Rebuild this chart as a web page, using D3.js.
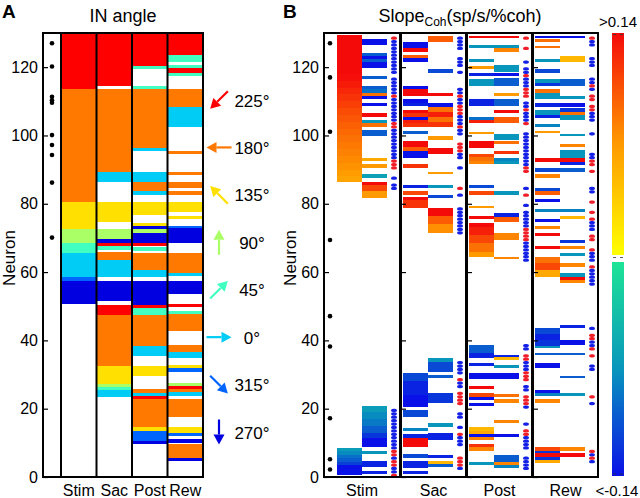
<!DOCTYPE html>
<html><head><meta charset="utf-8">
<script src="https://cdn.jsdelivr.net/npm/d3@7"></script>
<style>body{margin:0;background:#fff}text{font-family:"Liberation Sans",Arial,Helvetica,sans-serif;fill:#000}</style>
</head><body><svg id="c" width="640" height="498" xmlns="http://www.w3.org/2000/svg"></svg>
<script>
// ---------- data ----------
const epochs = ["Stim","Sac","Post","Rew"];
const yTicks = [0,20,40,60,80,100,120];
const neuronMax = 130;
const angles = [225,180,135,90,45,0,315,270];
const angleLabels = ["225°","180°","135°","90°","45°","0°","315°","270°"];
const slopeLimit = 0.14;
const colorbarLabels = [">0.14","<-0.14"];

// Panel A: [from neuron, to neuron, IN angle]
const aStim = [[50.7,57.5,270],[57.5,58.5,315],[58.5,65.7,0],[65.7,68.6,45],[68.6,72.5,90],[72.5,80.5,135],[80.5,113.5,180],[113.5,130,225]];
const aSac = [[23.5,25.5,0],[25.5,26.3,45],[26.3,27.3,90],[27.3,32.5,135],[32.5,47.4,180],[47.4,50.4,225],[51.4,57.5,270],[58.5,63.5,0],[63.5,65.8,180],[66.5,67.6,45],[67.6,68.6,225],[68.6,69.6,270],[69.6,72.5,90],[74.8,80.6,135],[86.5,89.4,0],[89.4,113.5,180],[114.5,130,225]];
const aPost = [[9.7,10.5,270],[10.5,13.5,315],[13.5,14.5,135],[14.5,22.9,180],[22.9,23.7,225],[23.7,24.7,0],[24.7,25.7,180],[29.7,32.6,135],[35.5,38.3,0],[38.3,47.4,180],[47.4,49.4,45],[49.4,50.4,225],[50.4,57.5,270],[58.5,60.5,0],[60.5,65.5,180],[66.3,67.3,45],[67.6,68.6,225],[68.6,71.5,270],[71.5,72.5,90],[72.5,73.5,270],[73.5,74.5,135],[76.7,80.6,135],[82.6,83.6,0],[83.6,86.5,180],[86.5,89.4,0],[95.5,96.4,0],[96.4,113.5,180],[113.5,114.5,45],[119.5,120.4,45],[120.4,130,225]];
const aRew = [[4.7,5.5,270],[5.5,9.7,180],[9.9,11.0,270],[12.0,12.8,315],[12.8,14.5,135],[17.7,22.8,180],[23.8,24.8,0],[24.8,25.8,180],[25.8,26.7,225],[26.7,27.6,90],[30.8,31.8,315],[31.8,32.8,135],[34.7,36.7,0],[36.7,38.7,180],[42.8,47.7,180],[47.7,48.7,45],[49.7,50.7,225],[53.6,57.5,270],[58.9,59.8,0],[59.8,65.7,180],[68.6,72.8,270],[72.8,73.5,315],[75.5,76.4,135],[77.7,80.6,135],[82.6,83.6,180],[84.5,86.5,180],[88.4,89.4,180],[94.6,95.5,180],[102.6,108.4,0],[108.4,113.5,180],[117.4,118.4,45],[118.4,119.7,225],[119.7,120.6,45],[121.6,123.6,45],[123.6,130,225]];
const aMarked = [127,120.2,111.3,110.3,109.6,100.1,97.2,94.3,86.2,70.1];

// Panel B: [from neuron, to neuron, slope]
const bStim1 = [[118,129.5,0.15],[116,118,0.138],[114,116,0.132],[112,114,0.126],[110,112,0.12],[108,110,0.114],[106,108,0.108],[104,106,0.103],[102,104,0.098],[100,102,0.094],[98,100,0.09],[96,98,0.086],[94,96,0.082],[92,94,0.078],[90,92,0.074],[88,90,0.068],[86.5,88,0.064],[7.5,8.6,-0.065],[6.5,7.5,-0.075],[5.5,6.5,-0.09],[4.5,5.5,-0.10],[3.5,4.5,-0.115],[0.5,3.5,-0.14]];
const bStim2 = [[126.5,128.2,-0.14],[123.3,124.2,-0.10],[122.3,123.3,-0.14],[121.4,122.3,-0.10],[119.7,121.4,-0.14],[116.4,117.4,-0.10],[113.5,114.5,-0.10],[112.5,113.5,-0.09],[111.5,112.5,0.09],[110.6,111.5,-0.14],[108.6,109.6,-0.14],[105.5,106.5,0.14],[103.6,104.5,-0.07],[102.6,103.6,0.09],[99.7,101.6,-0.10],[92.5,93.5,0.06],[90.6,91.6,0.07],[87.6,88.6,-0.06],[85.5,86.5,0.14],[83.6,85.5,0.11],[81.6,83.6,0.07],[19,20.8,-0.065],[17,19,-0.075],[15,17,-0.085],[13,15,-0.10],[11.5,13,-0.12],[8.9,11.5,-0.14],[6.7,7.7,-0.07],[2.8,4.8,-0.13],[0.9,1.9,-0.13]];
const bStimDots = [[129,129,1],[119,128,-1],[113,117,-1],[112,112,1],[105,111,-1],[103,104,1],[94,102,-1],[91,93,1],[88,88,-1],[85,86,-1],[9,20,-1],[7,8,1],[6,6,-1],[4,5,1],[2,3,-1],[1,1,1]];

const bSac1 = [[125.5,127.5,-0.14],[124.5,125.5,0.14],[122.6,123.6,0.10],[121.6,122.6,-0.14],[113.5,114.5,-0.14],[111.5,113.5,0.14],[109.6,110.6,-0.14],[108.6,109.6,-0.13],[106.5,107.5,0.14],[105.5,106.5,0.12],[104.5,105.5,-0.14],[103.6,104.5,0.13],[102.6,103.6,0.12],[100.4,101.3,-0.10],[97.4,98.4,0.14],[96.5,97.4,0.14],[95.5,96.5,0.10],[93.5,95.5,-0.14],[90.6,91.6,0.12],[84.5,85.5,-0.13],[82.6,83.6,0.11],[81,82,0.14],[78.7,81,0.12],[28,30.5,-0.11],[24,28,-0.13],[20.6,24,-0.14],[17.7,19.6,-0.11],[13.5,14.4,-0.08],[11.5,12.5,-0.13],[8.9,11.5,0.15],[5.7,6.6,-0.11],[2.7,4.7,-0.13],[0.8,1.8,-0.13]];
const bSac2 = [[127.5,129,0.10],[118.4,119.4,-0.11],[111.5,112.5,0.14],[108.4,109.4,-0.14],[107,108.4,0.09],[105.5,107,0.13],[104,105.5,0.09],[102.6,104,0.12],[98.7,99.7,0.07],[94.5,96.4,0.14],[88.6,89.4,0.07],[84.5,85.5,-0.07],[81.6,82.6,-0.11],[76.5,78.7,0.14],[74,76.5,0.10],[71.4,74,0.075],[33.8,34.7,-0.07],[30.8,33.8,-0.11],[28.9,29.9,-0.10],[21.8,24.7,-0.12],[14.7,15.9,-0.07],[10.8,12.8,-0.13],[5.5,6.4,-0.13],[3.8,4.8,0.05],[2.8,3.8,-0.10]];
const bSacDots = [[126,129,-1],[121,123,-1],[119,119,-1],[113,114,-1],[112,112,1],[110,111,-1],[107,109,1],[104,106,-1],[103,103,1],[101,102,-1],[96,98,1],[94,95,-1],[91,91,-1],[85,85,1],[83,83,-1],[72,79,-1],[31,34,-1],[29,29,1],[27,28,-1],[22,25,1],[18,19,-1],[15,15,-1],[13,13,1],[10,12,-1],[6,6,1],[4,5,1],[3,3,-1]];

const bPost1 = [[128.4,129.1,0.14],[125.5,126.5,-0.07],[121.5,122.3,-0.07],[119.6,120.4,0.07],[117.4,118.4,-0.13],[114.5,116.4,-0.07],[108.6,110.6,-0.13],[104.5,105.5,-0.09],[103.6,104.5,0.13],[100.3,101.1,0.07],[96.2,98.5,0.14],[93.6,94.5,0.11],[92.5,93.6,0.09],[91.5,92.5,0.08],[84.5,85.5,-0.11],[82.6,83.6,0.11],[78.7,79.4,0.07],[75.5,76.4,0.14],[73.3,74.3,0.14],[71,73.3,0.13],[68.5,71,0.11],[66,68.5,0.09],[64.5,66,0.07],[36.2,38.7,-0.10],[34.7,36.2,-0.13],[32.5,33.5,-0.13],[28.6,30.5,-0.14],[25.7,26.6,0.14],[23.5,24.5,0.11],[22.5,23.5,-0.14],[20.8,21.8,-0.14],[13.5,14.5,0.05],[12.6,13.5,0.06],[11.8,12.6,-0.14],[10.8,11.8,0.08],[8.7,9.7,0.12],[7.7,8.7,0.08],[3.5,4.5,-0.07]];
const bPost2 = [[128.4,129.1,0.14],[125.5,126.5,-0.07],[124.5,125.5,0.08],[118.5,120.5,-0.07],[117.4,118.4,-0.14],[114.5,116.7,-0.10],[111.5,112.5,0.07],[108.6,110.6,-0.10],[106.5,107.5,0.14],[103.6,105.5,0.10],[98.7,100.3,-0.07],[97.5,98.5,0.09],[94.5,95.5,0.12],[92.5,93.5,-0.08],[91.5,92.5,-0.07],[82.6,83.6,-0.07],[76.2,77.2,-0.13],[74.8,76.2,0.10],[69.4,71.4,0.08],[63.7,64.5,0.08],[35.0,35.8,-0.13],[34.2,35.0,0.05],[31.8,32.8,-0.07],[28.6,30.5,-0.14],[23.3,24.3,0.09],[21.6,22.7,0.08],[15.7,16.7,0.08],[11.8,12.6,-0.14],[4.5,6.4,-0.10],[3.5,4.5,0.08],[2.5,3.5,-0.08]];
const bPostDots = [[129,129,1],[126,126,1],[122,122,-1],[119,120,-1],[118,118,1],[115,117,-1],[112,114,1],[109,110,-1],[108,108,1],[105,107,-1],[104,104,1],[92,101,-1],[90,91,1],[85,85,-1],[83,83,1],[80,80,-1],[74,78,-1],[70,73,1],[64,69,-1],[38,39,-1],[35,36,1],[32,34,-1],[29,31,1],[26,27,-1],[22,24,1],[21,21,-1],[16,16,-1],[13,14,1],[9,12,-1],[3,6,-1]];

const bRew1 = [[128.4,129.1,-0.14],[127.4,128.2,0.09],[125.5,126.3,0.09],[121.6,122.3,-0.07],[118.4,119.4,-0.11],[115.4,116.4,-0.07],[114.5,115.4,-0.12],[112.5,113.5,0.09],[110.6,112.5,-0.07],[108.4,109.4,-0.13],[106,107.5,-0.07],[105,106,-0.13],[102.6,103.4,-0.08],[100.6,101.3,0.07],[92.3,93.3,0.14],[89.4,90.4,-0.11],[87.6,88.6,0.08],[83.6,84.5,-0.11],[82.6,83.6,0.10],[80.6,81.3,-0.14],[77.7,78.4,-0.08],[74.8,75.5,-0.14],[72.5,73.5,0.08],[70.6,71.4,0.14],[66.7,67.6,0.14],[62.6,64.5,0.09],[60.6,62.6,0.11],[58.7,60.6,0.06],[42,43.5,-0.11],[40,42,-0.13],[38.5,40,-0.12],[37.7,38.5,-0.07],[35.7,36.4,-0.10],[31.8,33.5,-0.14],[24.5,25.5,-0.14],[23.7,24.5,-0.08],[21.8,22.7,0.08],[7.7,8.7,0.11],[6.9,7.7,-0.12],[6,6.9,0.14],[5,6,-0.12],[4,5,0.06]];
const bRew2 = [[128.4,129.1,-0.14],[121.6,123.3,0.05],[114.5,116.5,-0.10],[110.6,111.6,-0.07],[108.4,109.4,-0.14],[107,108,-0.12],[106,107,0.09],[104.5,106,-0.07],[99.7,100.5,-0.07],[96.5,97.5,0.08],[93.3,95.6,-0.07],[92.3,93.3,0.14],[91.3,92.3,-0.13],[89.4,90.4,-0.10],[77.7,78.4,-0.08],[75.5,76.4,0.05],[68.4,69.4,-0.12],[66.7,67.6,0.08],[64.7,65.7,-0.07],[61.6,62.6,0.08],[58.7,59.6,-0.07],[57.7,58.7,0.14],[56.7,57.7,0.08],[43.5,44.5,-0.13],[38.7,40.1,-0.14],[35.7,36.4,-0.10],[28.9,29.6,-0.10],[23.7,24.5,-0.07],[7.7,8.7,0.08],[6,6.9,0.14]];
const bRewDots = [[129,129,1],[127,128,-1],[121,123,-1],[116,117,-1],[115,115,1],[114,114,-1],[111,112,1],[108,109,1],[105,107,-1],[101,101,-1],[94,95,-1],[92,93,1],[90,90,1],[84,85,-1],[81,81,1],[78,78,1],[76,76,1],[73,75,-1],[70,71,1],[67,67,1],[64,66,-1],[62,62,1],[57,61,-1],[44,44,-1],[41,42,1],[39,40,-1],[38,38,1],[36,36,1],[32,33,-1],[24,24,1],[22,22,-1],[8,8,1],[7,7,-1],[6,6,1],[5,5,-1]];
const bMarked = [127,117,101.1,69.4,47.1,38.2,17.2,5.2,2.2];

// ---------- drawing ----------
const aSegs = [aStim,aSac,aPost,aRew];
const bSegs1 = [bStim1,bSac1,bPost1,bRew1];
const bSegs2 = [bStim2,bSac2,bPost2,bRew2];
const bDots = [bStimDots,bSacDots,bPostDots,bRewDots];

const svg = d3.select("#c");
const y = d3.scaleLinear().domain([0,neuronMax]).range([477,33]);
const angleColor = d3.scaleOrdinal().domain(angles)
  .range(["#ff0000","#ff7800","#ffe000","#aaff66","#40ffc0","#00ccf5","#0064ff","#0000e0"]);
const posColor = d3.scaleLinear().domain([0,slopeLimit/2,slopeLimit]).range(["#ffff00","#ff9a00","#f50a0a"]).clamp(true);
const negColor = d3.scaleLinear().domain([-slopeLimit,-slopeLimit/2,0]).range(["#0a10e8","#0896bc","#1ee496"]).clamp(true);
const slopeColor = v => v >= 0 ? posColor(v) : negColor(v);
const fontS = 16;

// Panel A
const xA = d3.scaleBand().domain(epochs).range([61,203]);
const gA = svg.append("g");
epochs.forEach((ep,i)=>{
  gA.selectAll(null).data(aSegs[i]).join("rect")
    .attr("x", xA(ep)).attr("width", xA.bandwidth())
    .attr("y", d=>y(d[1])).attr("height", d=>y(d[0])-y(d[1]))
    .attr("fill", d=>angleColor(d[2])).attr("shape-rendering","crispEdges");
});
gA.selectAll(null).data(aMarked).join("circle")
  .attr("cx",52).attr("cy",d=>y(d)).attr("r",2.3).attr("fill","#000");
gA.selectAll(null).data(epochs).join("line")
  .attr("x1",d=>xA(d)).attr("x2",d=>xA(d)).attr("y1",y(neuronMax)).attr("y2",y(0))
  .attr("stroke","#000").attr("stroke-width",2);
gA.append("rect").attr("x",43).attr("y",y(neuronMax)).attr("width",203-43).attr("height",y(0)-y(neuronMax))
  .attr("fill","none").attr("stroke","#000").attr("stroke-width",2);
const axA = gA.append("g").attr("transform","translate(43,0)")
  .call(d3.axisLeft(y).tickValues(yTicks).tickSize(-5).tickPadding(5));
axA.select(".domain").remove();
axA.selectAll("text").attr("font-size",fontS).style("font-family",'"Liberation Sans",Arial,sans-serif');
axA.selectAll("line").attr("stroke-width",1.2);
gA.selectAll(null).data(epochs).join("text")
  .attr("x",d=>xA(d)+xA.bandwidth()/2).attr("y",496).attr("text-anchor","middle").attr("font-size",fontS).text(d=>d);
svg.append("text").attr("x",2).attr("y",18).attr("font-size",19).attr("font-weight","bold").text("A");
svg.append("text").attr("x",123).attr("y",22).attr("text-anchor","middle").attr("font-size",18).text("IN angle");
svg.append("text").attr("transform","translate(15,258) rotate(-90)").attr("text-anchor","middle").attr("font-size",17).text("Neuron");

// Legend arrows
const yLeg = d3.scalePoint().domain(angles).range([100,432]);
const defs = svg.append("defs");
angles.forEach((a,i)=>{
  const c = angleColor(a), rad = a*Math.PI/180, dx = Math.cos(rad), dy = -Math.sin(rad);
  const cx = 219, cy = yLeg(a), L = 12.5;
  const x1 = cx - dx*L, y1 = cy - dy*L, x2 = cx + dx*L, y2 = cy + dy*L;
  const hl = 10, hw = 5.5;
  const bx = x2 - dx*hl, by = y2 - dy*hl;
  svg.append("line").attr("x1",x1).attr("y1",y1).attr("x2",bx).attr("y2",by).attr("stroke",c).attr("stroke-width",2.2);
  svg.append("path").attr("d",`M${x2},${y2}L${bx - dy*hw},${by + dx*hw}L${bx + dy*hw},${by - dx*hw}Z`).attr("fill",c);
  svg.append("text").attr("x",252).attr("y",cy+6.5).attr("text-anchor","middle").attr("font-size",17).text(angleLabels[i]);
});

// Panel B
const xB = d3.scaleBand().domain(epochs).range([337,601]);
const subW = 25;
const gB = svg.append("g");
epochs.forEach((ep,i)=>{
  const x0 = xB(ep);
  gB.selectAll(null).data(bSegs1[i]).join("rect")
    .attr("x",x0).attr("width",subW).attr("y",d=>y(d[1])).attr("height",d=>y(d[0])-y(d[1]))
    .attr("fill",d=>slopeColor(d[2])).attr("shape-rendering","crispEdges");
  gB.selectAll(null).data(bSegs2[i]).join("rect")
    .attr("x",x0+subW).attr("width",subW).attr("y",d=>y(d[1])).attr("height",d=>y(d[0])-y(d[1]))
    .attr("fill",d=>slopeColor(d[2])).attr("shape-rendering","crispEdges");
  const dots = [];
  bDots[i].forEach(([lo,hi,s])=>{ for(let n=lo;n<=hi;n++) dots.push([n,s]); });
  gB.selectAll(null).data(dots).join("rect")
    .attr("x",x0+2*subW+4).attr("width",6).attr("y",d=>y(d[0])+0.1).attr("height",3.25).attr("rx",2.2)
    .attr("fill",d=>d[1]>0?"#f01e28":"#1420e6");
  const left = i===0 ? 324 : x0-2, right = x0+63;
  gB.append("rect").attr("x",left).attr("y",y(neuronMax)).attr("width",right-left).attr("height",y(0)-y(neuronMax))
    .attr("fill","none").attr("stroke","#000").attr("stroke-width",2);
  const ax = gB.append("g").attr("transform",`translate(${left},0)`)
    .call(d3.axisLeft(y).tickValues(yTicks).tickSize(-5).tickPadding(5).tickFormat(i===0?null:()=>""));
  ax.select(".domain").remove();
  ax.selectAll("line").attr("stroke-width",1.2);
  ax.selectAll("text").attr("font-size",fontS).style("font-family",'"Liberation Sans",Arial,sans-serif');
  gB.append("text").attr("x",(left+right)/2).attr("y",496).attr("text-anchor","middle").attr("font-size",fontS).text(ep);
});
gB.selectAll(null).data(bMarked).join("circle")
  .attr("cx",330).attr("cy",d=>y(d)).attr("r",2.3).attr("fill","#000");
svg.append("text").attr("x",283).attr("y",18).attr("font-size",19).attr("font-weight","bold").text("B");
svg.append("text").attr("transform","translate(296,258) rotate(-90)").attr("text-anchor","middle").attr("font-size",17).text("Neuron");
const tB = svg.append("text").attr("x",460).attr("y",22).attr("text-anchor","middle").attr("font-size",18);
tB.append("tspan").text("Slope");
tB.append("tspan").attr("font-size",12).attr("dy",4).text("Coh");
tB.append("tspan").attr("dy",-4).text("(sp/s/%coh)");

// Colorbar
const cbX = 612, cbW = 12;
const cbPos = d3.scaleLinear().domain([0,slopeLimit]).range([255,33]);
const cbNeg = d3.scaleLinear().domain([-slopeLimit,0]).range([476,262]);
const gp = defs.append("linearGradient").attr("id","gpos").attr("x1",0).attr("x2",0).attr("y1",1).attr("y2",0);
d3.range(0,1.0001,0.1).forEach(t=>gp.append("stop").attr("offset",t).attr("stop-color",posColor(t*slopeLimit)));
const gn = defs.append("linearGradient").attr("id","gneg").attr("x1",0).attr("x2",0).attr("y1",1).attr("y2",0);
d3.range(0,1.0001,0.1).forEach(t=>gn.append("stop").attr("offset",t).attr("stop-color",negColor(-slopeLimit+t*slopeLimit)));
svg.append("rect").attr("x",cbX).attr("width",cbW).attr("y",cbPos(slopeLimit)).attr("height",cbPos(0)-cbPos(slopeLimit)).attr("fill","url(#gpos)");
svg.append("rect").attr("x",cbX).attr("width",cbW).attr("y",cbNeg(0)).attr("height",cbNeg(-slopeLimit)-cbNeg(0)).attr("fill","url(#gneg)");
[cbPos(slopeLimit)+1.5, cbPos(0)+2.5, cbNeg(-slopeLimit)-2].forEach(yy=>{
  svg.append("line").attr("x1",cbX+1).attr("x2",cbX+4).attr("y1",yy).attr("y2",yy).attr("stroke","#333").attr("stroke-width",0.8);
  svg.append("line").attr("x1",cbX+cbW-4).attr("x2",cbX+cbW-1).attr("y1",yy).attr("y2",yy).attr("stroke","#333").attr("stroke-width",0.8);
});
svg.append("text").attr("x",618).attr("y",27).attr("text-anchor","middle").attr("font-size",15).text(colorbarLabels[0]);
svg.append("text").attr("x",617).attr("y",496).attr("text-anchor","middle").attr("font-size",15).text(colorbarLabels[1]);
</script></body></html>
